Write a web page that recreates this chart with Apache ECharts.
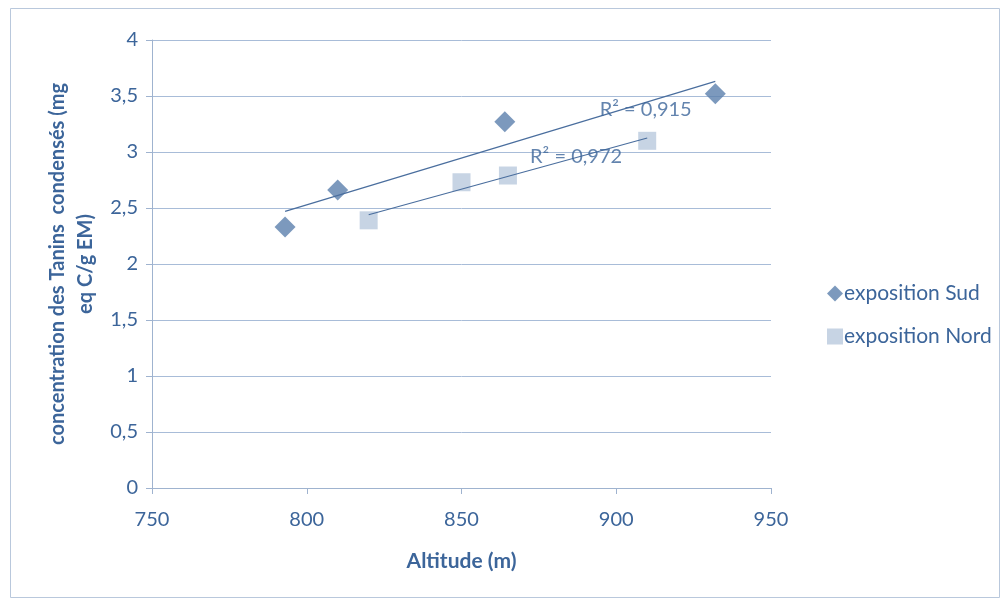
<!DOCTYPE html>
<html><head><meta charset="utf-8">
<script src="https://cdn.jsdelivr.net/npm/echarts@6/dist/echarts.min.js"></script>
<style>html,body{margin:0;padding:0;background:#fff}#c{width:1006px;height:603px}</style>
</head><body><div id="c"></div>
<script>
const sudX = [793, 810, 864, 932];
const sudY = [2.33, 2.66, 3.27, 3.52];
const nordX = [820, 850, 865, 910];
const nordY = [2.39, 2.73, 2.79, 3.10];
const sudTrendX = [793, 932];
const sudTrendY = [2.47, 3.63];
const nordTrendX = [820, 910];
const nordTrendY = [2.44, 3.125];
const r2Labels = ['R² = 0,915', 'R² = 0,972'];
const r2Pos = [[894.5, 3.375], [872, 2.96]];
const seriesNames = ['exposition Sud', 'exposition Nord'];

const zip = (a, b) => a.map((v, i) => [v, b[i]]);
const font = 'Lato, "Open Sans", sans-serif';
const textCol = '#3c659a';
const chart = echarts.init(document.getElementById('c'));
chart.setOption({
  animation: false,
  backgroundColor: '#fff',
  textStyle: { fontFamily: font },
  graphic: [{
    type: 'rect', shape: { x: 10.5, y: 8.5, width: 989, height: 589 },
    style: { fill: 'none', stroke: '#b9c8dc', lineWidth: 1 }
  }],
  grid: { left: 152, right: 235, top: 40, bottom: 115 },
  legend: {
    data: [
      { name: seriesNames[0], icon: 'diamond' },
      { name: seriesNames[1], icon: 'rect' }
    ],
    orient: 'vertical', left: 822, top: 278, itemGap: 22,
    itemWidth: 16, itemHeight: 16,
    textStyle: { color: textCol, fontSize: 21, fontFamily: font, padding: [0, 0, 0, -4] }
  },
  xAxis: {
    type: 'value', min: 750, max: 950, interval: 50,
    name: 'Altitude (m)', nameLocation: 'middle', nameGap: 63,
    nameTextStyle: { color: textCol, fontSize: 21, fontWeight: 'bold', fontFamily: font },
    axisLine: { show: true, lineStyle: { color: '#9fb3cf' } },
    axisTick: { show: true, length: 6, lineStyle: { color: '#9fb3cf' } },
    axisLabel: { color: textCol, fontSize: 20, margin: 22, fontFamily: font },
    splitLine: { show: false }
  },
  yAxis: {
    type: 'value', min: 0, max: 4, interval: 0.5,
    name: 'concentration des Tanins  condensés (mg\neq C/g EM)',
    nameLocation: 'middle', nameGap: 50, nameRotate: 90,
    nameTextStyle: { color: textCol, fontSize: 20, fontWeight: 'bold', fontFamily: font, lineHeight: 28, align: 'center' },
    axisLine: { show: true, lineStyle: { color: '#9fb3cf' } },
    axisTick: { show: true, length: 6, lineStyle: { color: '#9fb3cf' } },
    axisLabel: { color: textCol, fontSize: 20, margin: 14, fontFamily: font,
      formatter: v => String(v).replace('.', ',') },
    splitLine: { show: true, lineStyle: { color: '#a8bcd8', width: 1 } }
  },
  series: [
    { name: seriesNames[0], type: 'scatter', symbol: 'diamond', symbolSize: 21,
      itemStyle: { color: '#5b7fad' }, data: zip(sudX, sudY), z: 3 },
    { name: seriesNames[1], type: 'scatter', symbol: 'rect', symbolSize: 18,
      itemStyle: { color: '#b9c9dd' }, data: zip(nordX, nordY), z: 3 },
    { type: 'line', data: zip(sudTrendX, sudTrendY), symbol: 'none',
      lineStyle: { color: '#4a6e9e', width: 1.2 }, z: 4 },
    { type: 'line', data: zip(nordTrendX, nordTrendY), symbol: 'none',
      lineStyle: { color: '#4a6e9e', width: 1.2 }, z: 4 },
    { type: 'scatter', symbolSize: 1, itemStyle: { color: 'rgba(0,0,0,0)' }, z: 5,
      silent: true,
      data: r2Pos.map((p, i) => ({ value: p, label: { formatter: r2Labels[i] } })),
      label: { show: true, position: 'right', distance: 0, color: textCol, fontSize: 20, fontFamily: font } }
  ]
});
</script></body></html>
